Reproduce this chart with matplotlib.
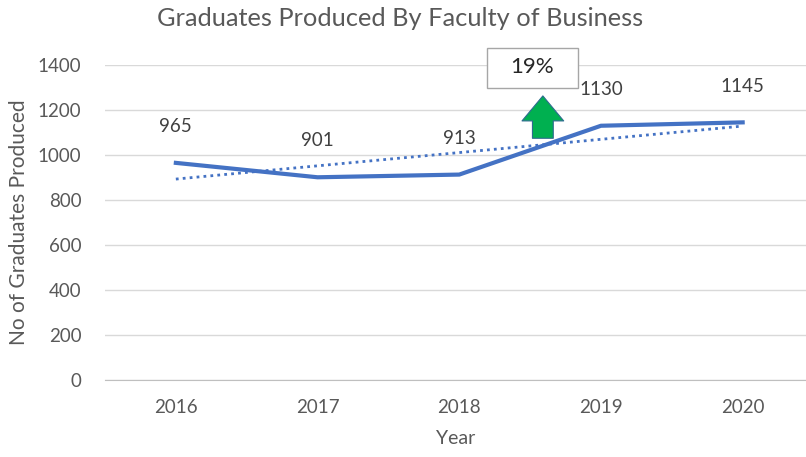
import numpy as np
import matplotlib
matplotlib.use("Agg")
import matplotlib.pyplot as plt
from matplotlib.patches import Rectangle

years = ["2016", "2017", "2018", "2019", "2020"]
graduates = [965, 901, 913, 1130, 1145]
growth_label = "19%"

plt.rcParams["font.family"] = ["Lato", "DejaVu Sans"]
GREY = "#595959"

fig = plt.figure(figsize=(8.06, 4.57), dpi=100)
ax = fig.add_axes([105 / 806, 1 - 380 / 457, 701 / 806, 315 / 457])

x = np.arange(len(years))
ax.plot(x, graduates, color="#4472C4", lw=3, solid_joinstyle="round", zorder=3)

# linear trendline
slope, icpt = np.polyfit(x, graduates, 1)
ax.plot(x, slope * x + icpt, color="#4472C4", lw=2, ls=(0, (1, 1.5)), zorder=2)

for xi, v in zip(x, graduates):
    ax.annotate(str(v), (xi, v), xytext=(0, 20), textcoords="offset points",
                ha="center", va="bottom", fontsize=13.5, color="#404040")

# growth arrow and box
ax.annotate("", xy=(2.59, 1275), xytext=(2.59, 1062),
            arrowprops=dict(arrowstyle="simple,head_width=1.5,head_length=0.9,tail_width=0.75",
                            mutation_scale=20, fc="#00B050", ec="#2E6B8F", lw=0.8),
            zorder=4, annotation_clip=False)
ax.add_patch(Rectangle((2.195, 1298), 0.642, 178, fc="white", ec="#A6A6A6", lw=1,
                       clip_on=False, zorder=5))
ax.text(2.516, 1390, growth_label, ha="center", va="center", fontsize=16, color="#262626",
        clip_on=False, zorder=6)

ax.set_xlim(-0.5, 4.447)
ax.set_ylim(0, 1400)
ax.set_yticks(range(0, 1401, 200))
ax.set_xticks(x)
ax.set_xticklabels(years)
ax.grid(axis="y", color="#D9D9D9", lw=1)
ax.set_axisbelow(True)
for s in ["top", "right", "left"]:
    ax.spines[s].set_visible(False)
ax.spines["bottom"].set_color("#BFBFBF")
ax.tick_params(length=0, labelsize=13.5, colors=GREY, pad=14)
ax.tick_params(axis="y", pad=17)

ax.set_xlabel("Year", fontsize=14, color=GREY, labelpad=10)
ax.set_ylabel("No of Graduates Produced", fontsize=15, color=GREY, labelpad=6)
fig.text(400 / 806, 1 - 18 / 457, "Graduates Produced By Faculty of Business",
         ha="center", va="center", fontsize=18.3, color=GREY)

fig.savefig("out.png", dpi=100)
